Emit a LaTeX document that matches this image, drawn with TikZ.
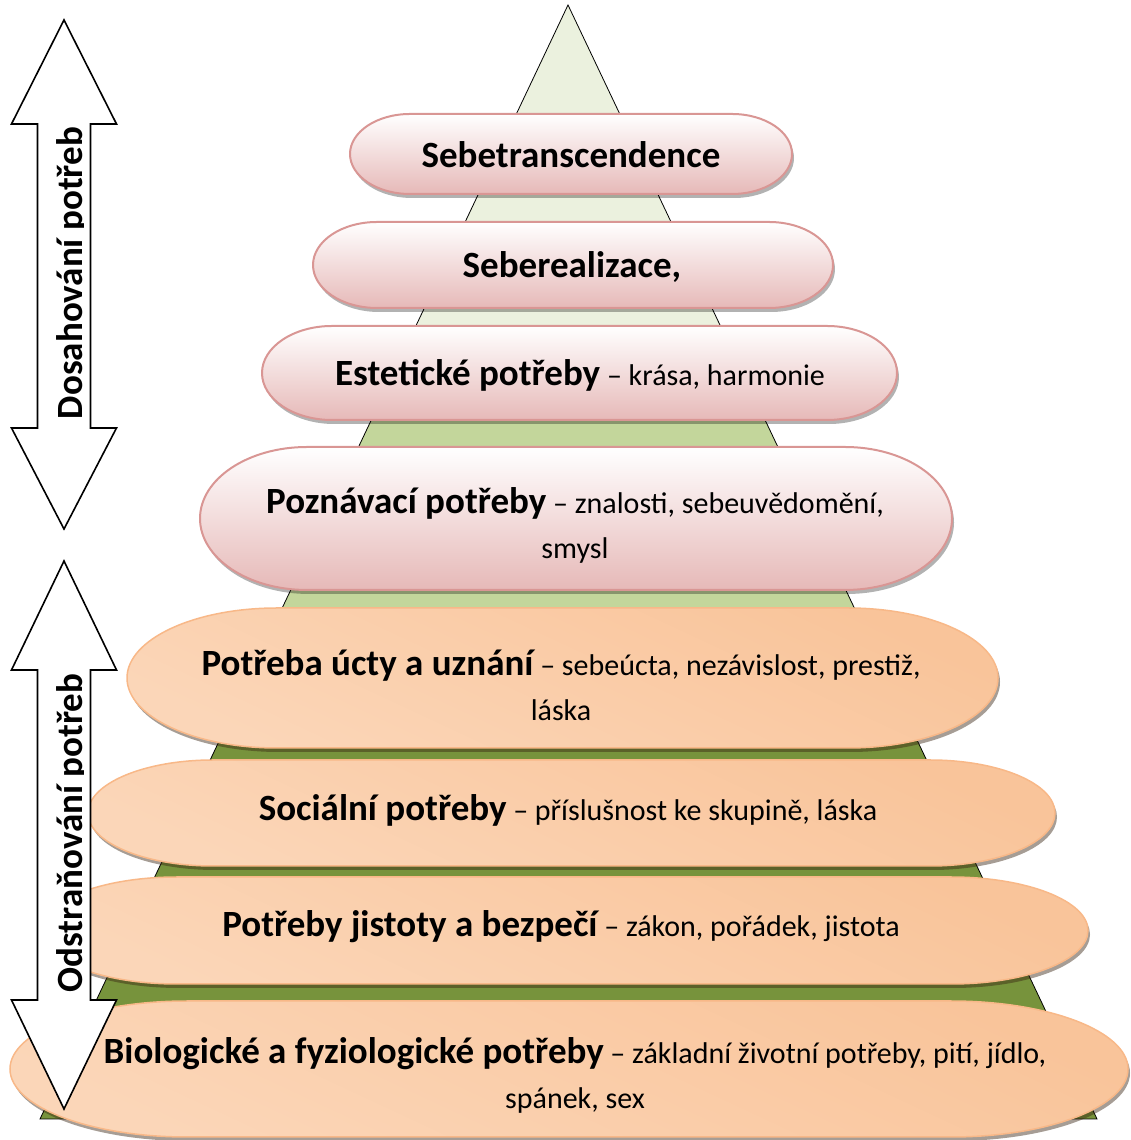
\documentclass[tikz,border=0pt]{standalone}
\usepackage{fontspec}
\setmainfont{Carlito}
\usepackage{tikz}
\usetikzlibrary{calc}
\usetikzlibrary{shadows}
\definecolor{pyrlight}{HTML}{EBF1DE}
\definecolor{pyrmid}{HTML}{C3D69B}
\definecolor{pyrdark}{HTML}{77933C}
\definecolor{pinkline}{HTML}{D99694}
\definecolor{pinkfill}{HTML}{E6B9B8}
\definecolor{peachline}{HTML}{F8B888}
\definecolor{peachdark}{HTML}{F9C49A}
\definecolor{peachmid}{HTML}{FBD6B8}
\definecolor{peachlight}{HTML}{FDEBDD}
\tikzset{pinkpill/.style = {draw = pinkline, line width = 2pt, top color = white,
    bottom color = pinkfill,
    drop shadow = {shadow xshift = 2pt, shadow yshift = -4pt, fill = black, opacity = 0.3}}}
\tikzset{peachpill/.style = {draw = peachline, line width = 1.5pt, top color = peachdark,
    middle color = peachlight, bottom color = peachmid, shading angle = -25,
    drop shadow = {shadow xshift = 2pt, shadow yshift = -4pt, fill = black!70!brown, opacity = 0.45}}}
\tikzset{arrowbox/.style = {draw, fill = white, line width = 1.6pt, line join = miter}}
\tikzset{pilltext/.style = {align = center, inner sep = 0, font = \fontsize{30}{45}\selectfont}}
\tikzset{arrowtext/.style = {rotate = 90, anchor = base, inner sep = 0,
    font = \fontsize{37}{45}\selectfont\bfseries}}
\newcommand\ttl[1]{{\fontsize{37}{45}\selectfont\bfseries #1}}
\def\drawpill(#1,#2)(#3,#4)#5#6{%
    \pgfmathsetmacro\pry{(#4-#2)/2}%
    \pgfmathsetmacro\pxa{#1+#5}%
    \pgfmathsetmacro\pxb{#3-#5}%
    \path[#6] (\pxa,#2) -- (\pxb,#2)
        arc[start angle = -90, end angle = 90, x radius = #5pt, y radius = \pry pt]
        -- (\pxa,#4)
        arc[start angle = 90, end angle = 270, x radius = #5pt, y radius = \pry pt]
        -- cycle;%
}
\def\drawdblarrow(#1,#2,#3,#4){%
    \draw[arrowbox] (64,#1) -- (116.5,#2) -- (90.5,#2) -- (90.5,#3) -- (116.5,#3)
        -- (64,#4) -- (11.5,#3) -- (37.5,#3) -- (37.5,#2) -- (11.5,#2) -- cycle;%
}

\begin{document}
\begin{tikzpicture}[x = 1pt, y = 1pt]
    \useasboundingbox (0, 0) rectangle (1130, 1140);
    \coordinate (apex) at (568, 1135);
    \coordinate (bl) at (40, 21);
    \coordinate (br) at (1097, 21);
    \begin{scope}
        \clip (apex) -- (bl) -- (br) -- cycle;
        \fill[pyrdark] (0, 0) rectangle (1130, 460);
        \fill[pyrmid] (0, 460) rectangle (1130, 765);
        \fill[pyrlight] (0, 765) rectangle (1130, 1140);
    \end{scope}
    \draw[line width = 0.8pt] (apex) -- (bl) -- (br) -- cycle;

    \drawpill(350, 946)(792, 1026){60}{pinkpill}
    \node[pilltext] (sebetrans) at (571, 985) {\ttl{Sebetranscendence}};
    \drawpill(313, 832)(833, 918){64}{pinkpill}
    \node[pilltext] (seberea) at (572, 873) {\ttl{Seberealizace,}};
    \drawpill(262, 720)(897, 814){70}{pinkpill}
    \node[pilltext] (estet) at (580, 765) {\ttl{Estetické potřeby} – krása, harmonie};
    \drawpill(200, 550)(952, 693){107}{pinkpill}
    \node[pilltext] (poznav) at (575, 615)
        {\ttl{Poznávací potřeby} – znalosti, sebeuvědomění,\\ smysl};

    \drawpill(127, 392)(998, 532){150}{peachpill}
    \node[pilltext] (ucta) at (561, 455)
        {\ttl{Potřeba úcty a uznání} – sebeúcta, nezávislost, prestiž,\\ láska};
    \drawpill(88, 274)(1055, 380){125}{peachpill}
    \node[pilltext] (social) at (568, 330)
        {\ttl{Sociální potřeby} – příslušnost ke skupině, láska};
    \drawpill(40, 156)(1088, 263){137}{peachpill}
    \node[pilltext] (jistota) at (561, 213)
        {\ttl{Potřeby jistoty a bezpečí} – zákon, pořádek, jistota};
    \drawpill(10, 3)(1128, 139){177}{peachpill}
    \node[pilltext] (biolog) at (575, 65)
        {\ttl{Biologické a fyziologické potřeby} – základní životní potřeby, pití, jídlo,\\ spánek, sex};

    \drawdblarrow(1120, 1016, 712, 611)
    \drawdblarrow(579, 470, 140, 31)
    \begin{scope}
        \clip (0, 0) rectangle (83, 1140);
        \node[arrowtext] (arrtop) at (82, 867) {Dosahování potřeb};
        \node[arrowtext] (arrbot) at (82, 307) {Odstraňování potřeb};
    \end{scope}
\end{tikzpicture}
\end{document}
